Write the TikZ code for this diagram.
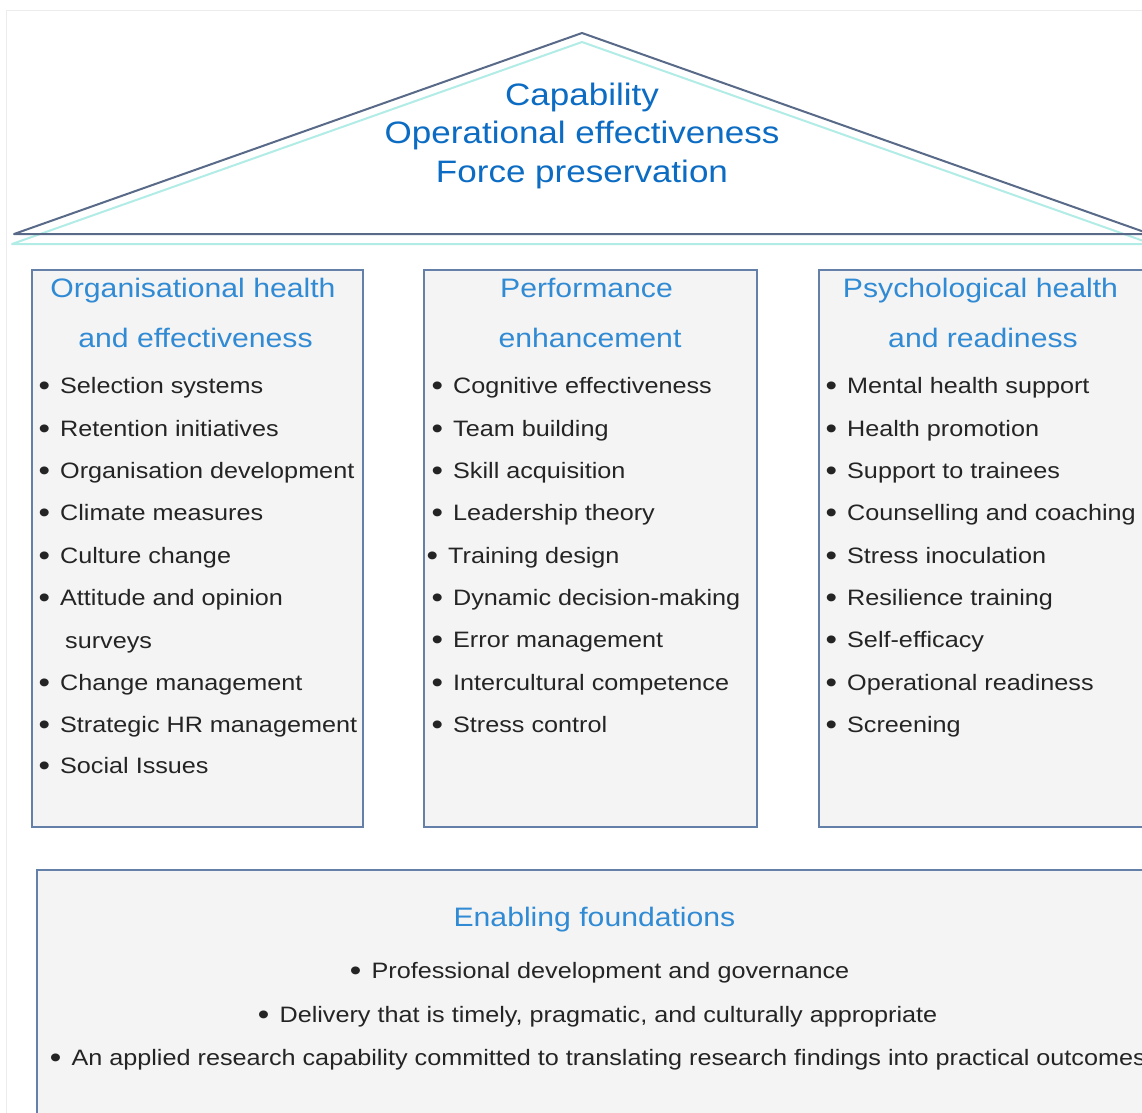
\documentclass[tikz,border=0pt]{standalone}
\usepackage{fontspec}
\setmainfont{Liberation Sans}[FakeStretch=1.13]
\definecolor{titleB}{RGB}{12,108,195}
\definecolor{headB}{RGB}{48,138,212}
\definecolor{bodyT}{RGB}{36,36,36}
\definecolor{boxB}{RGB}{100,128,168}
\definecolor{boxF}{RGB}{244,244,244}
\definecolor{roofD}{RGB}{88,106,136}
\definecolor{roofC}{RGB}{178,236,230}
\definecolor{frameG}{RGB}{236,236,236}
\newcommand\itembul{\hspace{-1.3pt}\raisebox{-2.5pt}{\scalebox{1.3}{\textbullet}}\hspace{10.2pt}}
\begin{document}
\begin{tikzpicture}[x=1pt,y=-1pt,
  roofdark/.style={draw=roofD, line width=2pt, line join=round},
  roofcyan/.style={draw=roofC, line width=2pt, line join=round},
  pillar/.style={draw=boxB, line width=1.8pt, fill=boxF},
  titletext/.style={text=titleB, font=\fontsize{31}{38}\selectfont, anchor=base, inner sep=0},
  headtext/.style={text=headB, font=\fontsize{26.7}{32}\selectfont, anchor=base, inner sep=0},
  itemtext/.style={text=bodyT, font=\fontsize{22.3}{27}\selectfont, anchor=base west, inner sep=0},
]
\useasboundingbox (0,0) rectangle (1142,1112);
\fill[white] (0,0) rectangle (1142,1112);
\draw[frameG, line width=1pt] (6,1200) |- (1200,10);

% roof
\coordinate (rl) at (14,234);
\coordinate (ra) at (582,33);
\coordinate (rr) at (1150,234);
\coordinate (cl) at (12,244);
\coordinate (ca) at (582,42);
\coordinate (cr) at (1152,244);
\draw[roofcyan] (cl) -- (ca) -- (cr) -- cycle;
\draw[roofdark] (rl) -- (ra) -- (rr) -- cycle;

\node[titletext] (t1) at (582,105) {Capability};
\node[titletext] (t2) at (582,143.5) {Operational effectiveness};
\node[titletext] (t3) at (582,182) {Force preservation};

% pillars
\draw[pillar] (32,270) rectangle (363,827);
\draw[pillar] (424,270) rectangle (757,827);
\draw[pillar] (819,270) rectangle (1152,827);
\draw[pillar] (37,870) rectangle (1170,1130);

% pillar 1
\node[headtext] (h1a) at (193,297) {Organisational health};
\node[headtext] (h1b) at (195.5,347) {and effectiveness};
\node[itemtext] (a1) at (39.6,393) {\itembul Selection systems};
\node[itemtext] (a2) at (39.6,436) {\itembul Retention initiatives};
\node[itemtext] (a3) at (39.6,478) {\itembul Organisation development};
\node[itemtext] (a4) at (39.6,520) {\itembul Climate measures};
\node[itemtext] (a5) at (39.6,563) {\itembul Culture change};
\node[itemtext] (a6) at (39.6,605) {\itembul Attitude and opinion};
\node[itemtext] (a6b) at (65,648) {surveys};
\node[itemtext] (a7) at (39.6,690) {\itembul Change management};
\node[itemtext] (a8) at (39.6,732) {\itembul Strategic HR management};
\node[itemtext] (a9) at (39.6,773) {\itembul Social Issues};

% pillar 2
\node[headtext] (h2a) at (586.5,297) {Performance};
\node[headtext] (h2b) at (590,347) {enhancement};
\node[itemtext] (b1) at (432.6,393) {\itembul Cognitive effectiveness};
\node[itemtext] (b2) at (432.6,436) {\itembul Team building};
\node[itemtext] (b3) at (432.6,478) {\itembul Skill acquisition};
\node[itemtext] (b4) at (432.6,520) {\itembul Leadership theory};
\node[itemtext] (b5) at (427.6,563) {\itembul Training design};
\node[itemtext] (b6) at (432.6,605) {\itembul Dynamic decision-making};
\node[itemtext] (b7) at (432.6,647) {\itembul Error management};
\node[itemtext] (b8) at (432.6,690) {\itembul Intercultural competence};
\node[itemtext] (b9) at (432.6,732) {\itembul Stress control};

% pillar 3
\node[headtext] (h3a) at (980.5,297) {Psychological health};
\node[headtext] (h3b) at (983,347) {and readiness};
\node[itemtext] (c1) at (826.6,393) {\itembul Mental health support};
\node[itemtext] (c2) at (826.6,436) {\itembul Health promotion};
\node[itemtext] (c3) at (826.6,478) {\itembul Support to trainees};
\node[itemtext] (c4) at (826.6,520) {\itembul Counselling and coaching};
\node[itemtext] (c5) at (826.6,563) {\itembul Stress inoculation};
\node[itemtext] (c6) at (826.6,605) {\itembul Resilience training};
\node[itemtext] (c7) at (826.6,647) {\itembul Self-efficacy};
\node[itemtext] (c8) at (826.6,690) {\itembul Operational readiness};
\node[itemtext] (c9) at (826.6,732) {\itembul Screening};

% foundations
\node[headtext] (h4) at (594.5,926) {Enabling foundations};
\node[itemtext] (d1) at (351,978) {\itembul Professional development and governance};
\node[itemtext] (d2) at (259,1022) {\itembul Delivery that is timely, pragmatic, and culturally appropriate};
\node[itemtext] (d3) at (51,1065) {\itembul An applied research capability committed to translating research findings into practical outcomes};
\end{tikzpicture}
\end{document}
